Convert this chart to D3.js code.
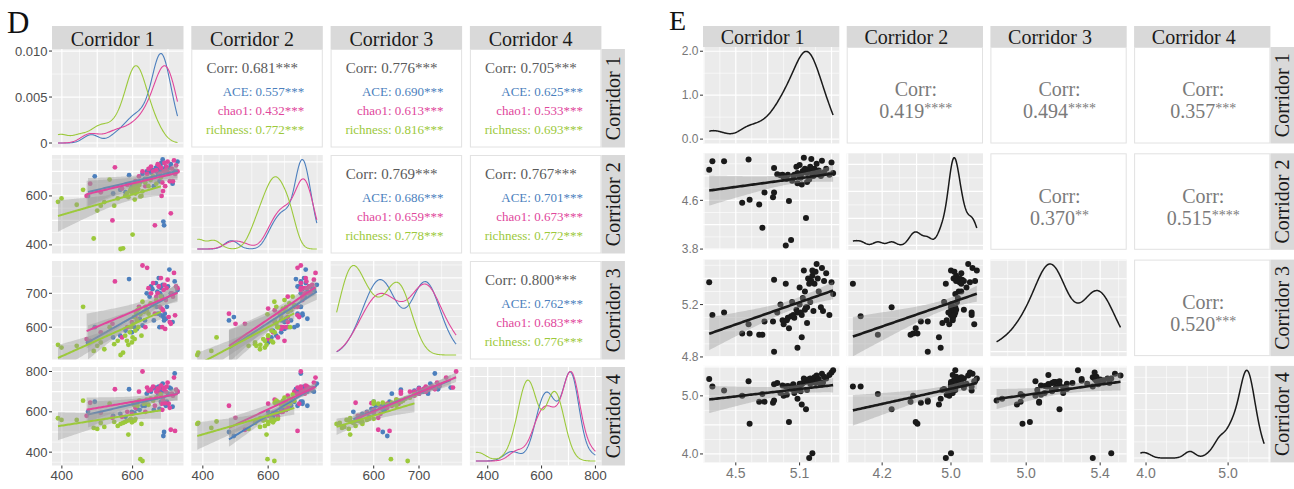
<!DOCTYPE html>
<html>
<head>
<meta charset="utf-8">
<script src="https://cdn.jsdelivr.net/npm/d3@7"></script>
<style>
  body { margin: 0; background: #fff; }
  svg { display: block; }
</style>
</head>
<body>
<svg width="1294" height="489"></svg>
<script>
// ---------- data ----------
const corridors = ['Corridor 1', 'Corridor 2', 'Corridor 3', 'Corridor 4'];
const groupNames = ['ACE', 'chao1', 'richness'];

// panel D, one sample per row: [corridor 1, corridor 2, corridor 3, corridor 4]
const aceRows = [
  [474, 600, 555, 600], [493, 680, 600, 650], [545, 610, 570, 580], [565, 625, 575, 590],
  [580, 615, 590, 575], [590, 685, 742, 712], [598, 640, 585, 600], [605, 630, 600, 595],
  [612, 650, 595, 615], [620, 655, 625, 610], [628, 690, 605, 630], [635, 670, 620, 630],
  [640, 700, 700, 690], [648, 710, 690, 705], [652, 695, 720, 700], [656, 705, 712, 715],
  [660, 640, 620, 610], [666, 715, 730, 720], [668, 700, 660, 710], [670, 720, 705, 700],
  [672, 690, 640, 690], [674, 710, 745, 725], [675, 700, 720, 712], [676, 660, 600, 615],
  [678, 725, 700, 718], [680, 705, 635, 650], [681, 735, 715, 705], [683, 712, 690, 700],
  [685, 749, 725, 740], [687, 495, 630, 480], [689, 480, 620, 500], [691, 705, 640, 640],
  [694, 720, 625, 630], [697, 700, 660, 650], [700, 690, 720, 690], [704, 715, 770, 720],
  [708, 730, 700, 715], [713, 650, 615, 625], [719, 700, 735, 790], [727, 740, 710, 700]
];
const chao1Rows = [
  [470, 600, 565, 580], [480, 650, 560, 645], [510, 615, 585, 595], [543, 500, 610, 570],
  [550, 717, 735, 712], [570, 630, 570, 575], [585, 645, 600, 600], [598, 620, 615, 590],
  [608, 660, 630, 620], [618, 680, 660, 700], [628, 700, 782, 800], [636, 640, 600, 600],
  [641, 690, 775, 720], [645, 710, 715, 705], [652, 720, 700, 710], [658, 700, 730, 725],
  [663, 480, 640, 630], [667, 705, 690, 700], [671, 730, 700, 715], [674, 725, 720, 715],
  [677, 690, 660, 690], [680, 715, 745, 730], [682, 600, 655, 640], [684, 655, 600, 610],
  [686, 620, 650, 660], [688, 700, 710, 712], [690, 735, 725, 718], [692, 640, 595, 643],
  [694, 705, 680, 700], [696, 720, 715, 725], [699, 740, 740, 745], [702, 695, 630, 640],
  [705, 660, 615, 620], [708, 529, 610, 511], [711, 712, 700, 690], [714, 660, 690, 680],
  [717, 745, 760, 770], [720, 690, 635, 505], [723, 725, 720, 710], [727, 700, 715, 700]
];
const richnessRows = [
  [389, 576, 548, 568], [399, 590, 540, 560], [442, 564, 545, 560], [460, 625, 660, 655],
  [490, 426, 530, 520], [500, 540, 545, 515], [510, 560, 555, 545], [520, 575, 535, 525],
  [535, 667, 600, 640], [548, 560, 550, 550], [558, 590, 560, 530], [566, 383, 518, 540],
  [573, 386, 525, 545], [579, 600, 575, 550], [584, 610, 560, 555], [588, 595, 548, 487],
  [592, 620, 585, 560], [595, 630, 600, 565], [598, 615, 555, 548], [600, 442, 570, 552],
  [602, 625, 610, 640], [604, 640, 630, 635], [606, 585, 565, 557], [608, 610, 590, 565],
  [610, 635, 640, 645], [612, 620, 620, 645], [614, 650, 650, 630], [616, 628, 600, 650],
  [619, 645, 655, 655], [622, 598, 638, 365], [625, 600, 575, 540], [628, 619, 675, 356],
  [632, 660, 645, 640], [636, 655, 660, 650], [640, 670, 650, 660], [645, 640, 640, 635],
  [651, 665, 670, 665], [658, 680, 665, 655], [667, 650, 680, 670], [680, 675, 690, 685]
];

// correlations for the pairs (1,2) (1,3) (1,4) (2,3) (2,4) (3,4)
const corrAllD = ['0.681', '0.776', '0.705', '0.769', '0.767', '0.800'];
const corrAceD = ['0.557', '0.690', '0.625', '0.686', '0.701', '0.762'];
const corrChao1D = ['0.432', '0.613', '0.533', '0.659', '0.673', '0.683'];
const corrRichnessD = ['0.772', '0.816', '0.693', '0.778', '0.772', '0.776'];

// panel E, one sample per row
const rowsE = [
  [4.25, 5.10, 5.37, 5.29], [4.28, 5.24, 5.12, 5.16], [4.39, 5.24, 5.14, 5.09], [4.62, 5.27, 5.05, 5.25],
  [4.56, 4.56, 4.98, 5.00], [4.63, 4.61, 4.98, 4.52], [4.72, 4.53, 4.97, 4.90], [4.75, 4.15, 4.97, 5.03],
  [4.77, 4.73, 5.07, 4.90], [4.85, 4.65, 5.07, 4.88], [4.86, 5.13, 5.39, 5.20], [4.86, 4.73, 4.84, 4.92],
  [4.97, 3.86, 5.36, 5.16], [5.02, 3.95, 5.11, 5.16], [5.16, 4.31, 5.18, 4.77], [5.12, 4.86, 4.95, 4.85],
  [5.08, 4.88, 4.87, 4.95], [5.19, 4.94, 5.36, 3.93], [5.22, 5.00, 5.46, 4.01], [5.00, 4.59, 5.02, 4.55],
  [5.05, 5.02, 5.10, 5.05], [5.08, 5.05, 5.14, 5.10], [5.10, 5.00, 5.20, 5.15], [5.12, 5.04, 5.12, 5.20],
  [5.13, 5.08, 5.25, 5.22], [4.94, 5.02, 5.08, 5.18], [5.15, 5.06, 5.16, 5.24], [5.15, 5.12, 5.30, 5.26],
  [4.89, 5.03, 5.14, 5.22], [5.17, 5.05, 5.18, 5.25], [5.04, 5.00, 5.12, 5.20], [5.18, 5.10, 5.40, 5.28],
  [5.32, 5.04, 5.15, 5.23], [5.20, 5.07, 5.22, 5.21], [5.20, 5.15, 5.38, 5.30], [4.99, 5.02, 5.10, 5.17],
  [5.22, 5.06, 5.42, 5.27], [5.23, 5.00, 5.15, 5.24], [5.24, 5.12, 5.36, 5.32], [5.25, 5.04, 5.45, 5.22],
  [5.26, 5.20, 5.51, 5.35], [5.27, 5.03, 5.40, 5.26], [5.28, 5.09, 5.30, 5.29], [5.30, 5.00, 5.18, 5.19],
  [5.31, 5.25, 5.48, 5.38], [5.33, 5.06, 5.38, 5.33], [5.35, 5.12, 5.44, 5.30], [5.38, 5.02, 5.12, 5.36],
  [5.40, 5.22, 5.37, 5.40], [5.415, 5.05, 5.28, 5.44], [4.98, 4.95, 5.08, 5.02], [5.03, 4.92, 5.22, 5.12],
  [5.11, 4.97, 5.14, 5.08], [5.14, 5.30, 5.46, 5.30], [5.07, 5.15, 5.16, 5.14], [4.95, 4.98, 5.05, 5.00],
  [5.17, 4.90, 5.06, 5.10], [5.21, 5.28, 5.38, 5.25], [4.92, 5.01, 5.20, 5.05], [5.10, 5.18, 5.33, 5.21]
];
const corrE = ['0.419', '0.494', '0.357', '0.370', '0.515', '0.520'];
const starsE = ['****', '****', '***', '**', '****', '***'];

// axis tick labels
const ticksD = [[400, 600], [400, 600], [600, 700], [400, 600, 800]];
const densTicksD = [0, 0.005, 0.010];
const densLabelsD = ['0', '0.005', '0.010'];
const xTicksE = [[4.5, 5.1], [4.2, 5.0], [5.0, 5.4], [4.0, 5.0]];
const yTicksE = [[], [3.8, 4.6], [4.8, 5.2], [4.0, 5.0]];
const densTicksE = [0, 1, 2];
const densLabelsE = ['0.0', '1.0', '2.0'];

// ---------- helpers ----------
const svg = d3.select('svg');
const SERIF = '"Liberation Serif", "Times New Roman", serif';
const SANS = '"Liberation Sans", Arial, sans-serif';
const pairIndex = (i, j) => [[-1, 0, 1, 2], [0, -1, 3, 4], [1, 3, -1, 5], [2, 4, 5, -1]][i][j];

function bwNrd0(v) {
  const s = v.slice().sort(d3.ascending);
  const iqr = d3.quantileSorted(s, 0.75) - d3.quantileSorted(s, 0.25);
  const lo = Math.min(d3.deviation(s), iqr / 1.34);
  return 0.9 * lo * Math.pow(s.length, -0.2);
}

function kde(v, ext) {
  const bw = bwNrd0(v), n = v.length;
  return d3.range(201).map(k => {
    const x = ext[0] + (ext[1] - ext[0]) * k / 200;
    const d = d3.sum(v, xi => Math.exp(-0.5 * ((x - xi) / bw) ** 2)) / (n * bw * Math.sqrt(2 * Math.PI));
    return [x, d];
  });
}

const tCrit = df => 1.96 + 2.4 / df + 2.6 / (df * df);

function fitLine(pts) {
  const n = pts.length;
  const mx = d3.mean(pts, p => p[0]), my = d3.mean(pts, p => p[1]);
  const sxx = d3.sum(pts, p => (p[0] - mx) ** 2);
  const b = d3.sum(pts, p => (p[0] - mx) * (p[1] - my)) / sxx;
  const a = my - b * mx;
  const s = Math.sqrt(d3.sum(pts, p => (p[1] - a - b * p[0]) ** 2) / (n - 2));
  const t = tCrit(n - 2);
  const [lo, hi] = d3.extent(pts, p => p[0]);
  return d3.range(81).map(k => {
    const x = lo + (hi - lo) * k / 80, y = a + b * x;
    const se = s * Math.sqrt(1 / n + (x - mx) ** 2 / sxx);
    return { x, y, y0: y - t * se, y1: y + t * se };
  });
}

function gridVals(dom, start, step) {
  const major = [], minor = [];
  const k0 = Math.floor((dom[0] - start) / step) - 1;
  for (let k = k0; start + k * step <= dom[1] + 1e-9; k++) {
    const v = start + k * step;
    if (v >= dom[0] && v <= dom[1]) major.push(v);
    const h = v + step / 2;
    if (h >= dom[0] && h <= dom[1]) minor.push(h);
  }
  return { major, minor };
}

let clipId = 0;

function drawMatrix(m) {
  const root = svg.append('g');
  const nv = m.labels.length;
  const all = m.groups.flatMap(gr => gr.rows);
  const ext = d3.range(nv).map(k => d3.extent(all, r => r[k]));
  const dom = ext.map(e => { const p = (e[1] - e[0]) * 0.05; return [e[0] - p, e[1] + p]; });
  const xScale = k => d3.scaleLinear().domain(dom[k]).range([m.xs[k], m.xs[k] + m.w]);
  const yScale = k => d3.scaleLinear().domain(dom[k]).range([m.ys[k] + m.h, m.ys[k]]);
  const dens = d3.range(nv).map(k => m.groups.map(gr => kde(gr.rows.map(r => r[k]), ext[k])));
  const densY = d3.range(nv).map(k => {
    const mx = d3.max(dens[k], c => d3.max(c, p => p[1]));
    return d3.scaleLinear().domain([-0.05 * mx, 1.05 * mx]).range([m.ys[k] + m.h, m.ys[k]]);
  });

  // strips on top and on the right
  m.labels.forEach((lab, k) => {
    root.append('rect')
      .attr('x', m.xs[k]).attr('y', m.stripTop)
      .attr('width', m.w).attr('height', m.ys[0] - m.stripTop)
      .attr('fill', '#d9d9d9');
    root.append('text')
      .attr('x', m.xs[k] + m.w / 2 + m.stripShift).attr('y', m.stripTop + m.stripBase)
      .attr('text-anchor', 'middle')
      .attr('font-family', SERIF).attr('font-size', m.stripSize).attr('fill', '#1a1a1a')
      .text(lab);
    const rx = m.xs[nv - 1] + m.w;
    root.append('rect')
      .attr('x', rx).attr('y', m.ys[k])
      .attr('width', m.stripW).attr('height', m.h)
      .attr('fill', '#d9d9d9');
    root.append('text')
      .attr('transform', `translate(${rx + m.stripW / 2 + 7},${m.ys[k] + m.h / 2}) rotate(-90)`)
      .attr('text-anchor', 'middle')
      .attr('font-family', SERIF).attr('font-size', m.stripSize).attr('fill', '#1a1a1a')
      .text(lab);
  });

  for (let i = 0; i < nv; i++) {
    for (let j = 0; j < nv; j++) {
      const px = m.xs[j], py = m.ys[i];
      const cell = root.append('g');

      if (i < j) {
        cell.append('rect')
          .attr('x', px + 0.5).attr('y', py + 0.5)
          .attr('width', m.w - 1).attr('height', m.h - 1)
          .attr('fill', '#fff').attr('stroke', '#e2e2e2');
        m.drawCorr(cell, pairIndex(i, j), px, py);
        continue;
      }

      const id = 'clip' + (clipId++);
      cell.append('clipPath').attr('id', id)
        .append('rect').attr('x', px).attr('y', py).attr('width', m.w).attr('height', m.h);
      cell.append('rect')
        .attr('x', px).attr('y', py).attr('width', m.w).attr('height', m.h)
        .attr('fill', '#ebebeb');

      const x = xScale(j);
      const y = i === j ? densY[i] : yScale(i);
      const gx = gridVals(dom[j], m.gridStart[j], m.gridStep[j]);
      let gy;
      if (i === j) {
        const t = y.ticks(3);
        gy = gridVals(y.domain(), t[0], t[1] - t[0]);
      } else {
        gy = gridVals(dom[i], m.gridStart[i], m.gridStep[i]);
      }
      const grid = cell.append('g').attr('stroke', '#fff');
      grid.selectAll('.vmin').data(gx.minor).enter().append('line')
        .attr('x1', d => x(d)).attr('x2', d => x(d)).attr('y1', py).attr('y2', py + m.h)
        .attr('stroke-width', 0.6);
      grid.selectAll('.hmin').data(gy.minor).enter().append('line')
        .attr('y1', d => y(d)).attr('y2', d => y(d)).attr('x1', px).attr('x2', px + m.w)
        .attr('stroke-width', 0.6);
      grid.selectAll('.vmaj').data(gx.major).enter().append('line')
        .attr('x1', d => x(d)).attr('x2', d => x(d)).attr('y1', py).attr('y2', py + m.h)
        .attr('stroke-width', 1.2);
      grid.selectAll('.hmaj').data(gy.major).enter().append('line')
        .attr('y1', d => y(d)).attr('y2', d => y(d)).attr('x1', px).attr('x2', px + m.w)
        .attr('stroke-width', 1.2);

      const body = cell.append('g').attr('clip-path', `url(#${id})`);
      if (i === j) {
        const line = d3.line().x(d => x(d[0])).y(d => y(d[1]));
        m.groups.forEach((gr, g) => {
          body.append('path').datum(dens[j][g])
            .attr('d', line).attr('fill', 'none')
            .attr('stroke', gr.color).attr('stroke-width', m.densWidth);
        });
      } else {
        m.groups.forEach(gr => {
          body.append('g').selectAll('circle').data(gr.rows).enter().append('circle')
            .attr('cx', d => x(d[j])).attr('cy', d => y(d[i]))
            .attr('r', m.pointR).attr('fill', gr.color);
        });
        m.groups.forEach(gr => {
          const fit = fitLine(gr.rows.map(r => [r[j], r[i]]));
          body.append('path').datum(fit)
            .attr('d', d3.area().x(d => x(d.x)).y0(d => y(d.y0)).y1(d => y(d.y1)))
            .attr('fill', '#999').attr('fill-opacity', 0.4);
          body.append('path').datum(fit)
            .attr('d', d3.line().x(d => x(d.x)).y(d => y(d.y)))
            .attr('fill', 'none').attr('stroke', gr.color).attr('stroke-width', m.lineWidth);
        });
      }
    }
  }

  // left axis
  for (let i = 0; i < nv; i++) {
    const px = m.xs[0];
    let vals, labs, y;
    if (i === 0) { vals = m.densTicks; labs = m.densLabels; y = densY[0]; }
    else { vals = m.yTicks[i]; labs = vals.map(m.fmt); y = yScale(i); }
    const ax = root.append('g');
    ax.selectAll('line').data(vals).enter().append('line')
      .attr('x1', px - 3).attr('x2', px).attr('y1', d => y(d)).attr('y2', d => y(d))
      .attr('stroke', '#333').attr('stroke-width', 1);
    ax.selectAll('text').data(vals).enter().append('text')
      .attr('x', px - 4.5).attr('y', d => y(d))
      .attr('dy', '0.35em').attr('text-anchor', 'end')
      .attr('font-family', SANS).attr('font-size', m.yTickSize).attr('fill', m.tickColor)
      .text((d, k) => labs[k]);
  }
  // bottom axis
  for (let j = 0; j < nv; j++) {
    const x = xScale(j), by = m.ys[nv - 1] + m.h;
    const ax = root.append('g');
    ax.selectAll('line').data(m.xTicks[j]).enter().append('line')
      .attr('x1', d => x(d)).attr('x2', d => x(d)).attr('y1', by).attr('y2', by + 3)
      .attr('stroke', '#333').attr('stroke-width', 1);
    ax.selectAll('text').data(m.xTicks[j]).enter().append('text')
      .attr('x', d => x(d)).attr('y', by + m.xLabelDy)
      .attr('text-anchor', 'middle')
      .attr('font-family', SANS).attr('font-size', m.xTickSize).attr('fill', m.tickColor)
      .text(m.fmt);
  }
}

// ---------- panel D ----------
const colorsD = ['#4c7fbd', '#e0469b', '#9cc93b'];
const groupCorrD = [corrAceD, corrChao1D, corrRichnessD];

svg.append('text').attr('x', 7).attr('y', 33)
  .attr('font-family', SERIF).attr('font-size', 31).attr('fill', '#111').text('D');

drawMatrix({
  labels: corridors,
  groups: [aceRows, chao1Rows, richnessRows].map((rows, g) => ({ rows, color: colorsD[g] })),
  xs: d3.range(4).map(k => 52 + k * 139.3), w: 131.5,
  ys: d3.range(4).map(k => 49 + k * 106), h: 98.5,
  stripTop: 26, stripBase: 19.5, stripW: 23.5, stripSize: 20, stripShift: -5,
  gridStart: [400, 400, 600, 400], gridStep: [100, 100, 100, 100],
  xTicks: ticksD, yTicks: ticksD, densTicks: densTicksD, densLabels: densLabelsD,
  fmt: d => String(d), yTickSize: 13, xTickSize: 13.5, xLabelDy: 14, tickColor: '#4d4d4d',
  pointR: 2.4, lineWidth: 2, densWidth: 1.1,
  drawCorr(cell, p, px, py) {
    cell.append('text')
      .attr('x', px + 61).attr('y', py + 24).attr('text-anchor', 'middle')
      .attr('font-family', SERIF).attr('font-size', 15).attr('fill', '#5a5a5a')
      .text(`Corr: ${corrAllD[p]}***`);
    groupNames.forEach((gname, g) => {
      cell.append('text')
        .attr('x', px + 113).attr('y', py + 47 + g * 19).attr('text-anchor', 'end')
        .attr('font-family', SERIF).attr('font-size', 13).attr('fill', colorsD[g])
        .text(`${gname}: ${groupCorrD[g][p]}***`);
    });
  }
});

// ---------- panel E ----------
svg.append('text').attr('x', 669).attr('y', 30)
  .attr('font-family', SERIF).attr('font-size', 28).attr('fill', '#111').text('E');

drawMatrix({
  labels: corridors,
  groups: [{ rows: rowsE, color: '#1a1a1a' }],
  xs: d3.range(4).map(k => 703 + k * 143.7), w: 136.3,
  ys: d3.range(4).map(k => 47 + k * 106.3), h: 96.5,
  stripTop: 26, stripBase: 17.5, stripW: 24, stripSize: 20, stripShift: -8.5,
  gridStart: [4.5, 3.8, 4.8, 4.0], gridStep: [0.3, 0.4, 0.2, 0.5],
  xTicks: xTicksE, yTicks: yTicksE, densTicks: densTicksE, densLabels: densLabelsE,
  fmt: d3.format('.1f'), yTickSize: 12, xTickSize: 14, xLabelDy: 16, tickColor: '#777',
  pointR: 3, lineWidth: 2.6, densWidth: 1.5,
  drawCorr(cell, p, px, py) {
    const cx = px + 136.3 / 2 + 1, cy = py + 96.5 / 2;
    cell.append('text')
      .attr('x', cx).attr('y', cy + 1).attr('text-anchor', 'middle')
      .attr('font-family', SERIF).attr('font-size', 20).attr('fill', '#7a7a7a')
      .text('Corr:');
    const t = cell.append('text')
      .attr('x', cx).attr('y', cy + 23).attr('text-anchor', 'middle')
      .attr('font-family', SERIF).attr('font-size', 20).attr('fill', '#7a7a7a');
    t.append('tspan').text(corrE[p]);
    t.append('tspan').attr('font-size', 14).attr('dy', -5).text(starsE[p]);
  }
});
</script>
</body>
</html>
